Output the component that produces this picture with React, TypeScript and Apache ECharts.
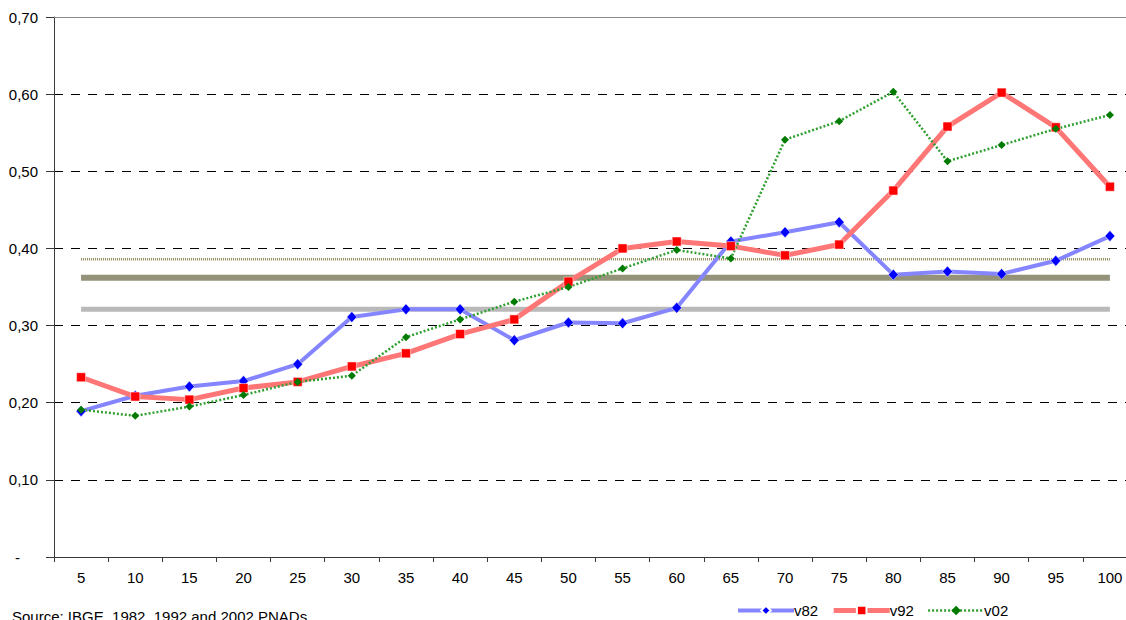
import React, { useEffect, useRef } from 'react';
import * as echarts from 'echarts';

const FONT = '"Liberation Sans", Arial, Helvetica, sans-serif';

// Percentile groups on the horizontal axis
const categories = ['5', '10', '15', '20', '25', '30', '35', '40', '45', '50', '55', '60', '65', '70', '75', '80', '85', '90', '95', '100'];

// Values per survey year
const v82 = [0.189, 0.209, 0.221, 0.228, 0.250, 0.311, 0.321, 0.321, 0.281, 0.304, 0.303, 0.323, 0.409, 0.421, 0.434, 0.366, 0.370, 0.367, 0.384, 0.416];
const v92 = [0.233, 0.208, 0.204, 0.219, 0.227, 0.247, 0.264, 0.289, 0.308, 0.357, 0.400, 0.409, 0.403, 0.391, 0.405, 0.475, 0.558, 0.602, 0.557, 0.480];
const v02 = [0.191, 0.183, 0.195, 0.210, 0.227, 0.235, 0.285, 0.308, 0.331, 0.350, 0.374, 0.398, 0.387, 0.541, 0.565, 0.603, 0.513, 0.534, 0.555, 0.573];

// Average levels drawn as horizontal reference lines (1982, 1992, 2002)
const avg82 = 0.321;
const avg92 = 0.362;
const avg02 = 0.386;

const yTickStep = 0.1;
const yMax = 0.7;

const sourceNote = 'Source: IBGE, 1982, 1992 and 2002 PNADs';

const flat = (level: number) => categories.map(() => level);

// Line looks shared by each series and its legend entry
const style82 = { color: '#8585ff', width: 4 };
const style92 = { color: '#ff7676', width: 5 };
const style02 = { color: '#2f9f2f', width: 2.5, type: [2, 2] };

export default function App() {
  const ref = useRef<HTMLDivElement>(null);

  useEffect(() => {
    const chart = echarts.init(ref.current!, null, { renderer: 'svg' });
    chart.setOption({
      animation: false,
      backgroundColor: '#ffffff',
      textStyle: { fontFamily: FONT },
      // the plot runs a little past the right edge of the visible page
      grid: { left: 54, right: 3, top: 17, bottom: 63 },
      legend: {
        data: [
          { name: 'v82', lineStyle: style82 },
          { name: 'v92', lineStyle: style92 },
          { name: 'v02', lineStyle: style02 },
        ],
        left: 731,
        top: 598,
        itemWidth: 56,
        itemHeight: 12,
        itemGap: 13,
        textStyle: { fontSize: 15, color: '#000', fontFamily: FONT, padding: [0, 0, 0, -5] },
      },
      xAxis: {
        type: 'category',
        data: categories,
        boundaryGap: true,
        axisLine: { lineStyle: { color: '#3a3a3a', width: 1 } },
        axisTick: { show: true, length: 5, lineStyle: { color: '#3a3a3a' } },
        axisLabel: { color: '#000', fontSize: 15, margin: 13, interval: 0, fontFamily: FONT },
        splitLine: { show: false },
      },
      yAxis: {
        type: 'value',
        min: 0,
        max: yMax,
        interval: yTickStep,
        axisLine: { show: true, lineStyle: { color: '#3a3a3a', width: 1 } },
        axisTick: { show: true, length: 8, lineStyle: { color: '#3a3a3a' } },
        axisLabel: {
          color: '#000',
          fontSize: 15,
          margin: 16,
          fontFamily: FONT,
          formatter: (v: number) => (v === 0 ? '{dash|-}' : v.toFixed(2).replace('.', ',')),
          rich: { dash: { fontSize: 15, fontFamily: FONT, color: '#000', padding: [0, 18, 0, 0] } },
        },
        splitLine: {
          show: true,
          showMinLine: false,
          showMaxLine: false,
          lineStyle: { color: '#000', type: [9, 8], width: 1 },
        },
      },
      graphic: [
        {
          type: 'text',
          left: 12,
          top: 609,
          style: { text: sourceNote, fontSize: 15, fill: '#000', fontFamily: FONT },
        },
      ],
      series: [
        {
          name: 'avg82',
          type: 'line',
          data: flat(avg82),
          symbol: 'none',
          silent: true,
          z: 1,
          lineStyle: { color: '#b9b9b9', width: 5 },
          markLine: {
            silent: true,
            symbol: 'none',
            label: { show: false },
            lineStyle: { color: '#8a8a8a', width: 1, type: 'solid' },
            data: [{ yAxis: yMax }],
          },
        },
        {
          name: 'avg92',
          type: 'line',
          data: flat(avg92),
          symbol: 'none',
          silent: true,
          z: 1,
          lineStyle: { color: '#95927a', width: 6 },
        },
        {
          name: 'avg02',
          type: 'line',
          data: flat(avg02),
          symbol: 'none',
          silent: true,
          z: 1,
          lineStyle: { color: '#8f8a5c', width: 2.5, type: [1, 1] },
        },
        {
          name: 'v82',
          type: 'line',
          data: v82,
          symbol: 'diamond',
          symbolSize: [10, 11],
          z: 3,
          itemStyle: { color: '#0000ff', borderColor: '#ffffff', borderWidth: 0.5 },
          lineStyle: style82,
        },
        {
          name: 'v92',
          type: 'line',
          data: v92,
          symbol: 'rect',
          symbolSize: 9,
          z: 3,
          itemStyle: { color: '#ff0000', borderColor: '#ffffff', borderWidth: 0.5 },
          lineStyle: style92,
        },
        {
          name: 'v02',
          type: 'line',
          data: v02,
          symbol: 'diamond',
          symbolSize: 8,
          z: 3,
          itemStyle: { color: '#007a00' },
          lineStyle: style02,
        },
      ],
    });
    return () => chart.dispose();
  }, []);

  return (
    <div
      ref={ref}
      style={{ position: 'fixed', left: 0, top: 0, width: 1140, height: 620, background: '#fff' }}
    />
  );
}
